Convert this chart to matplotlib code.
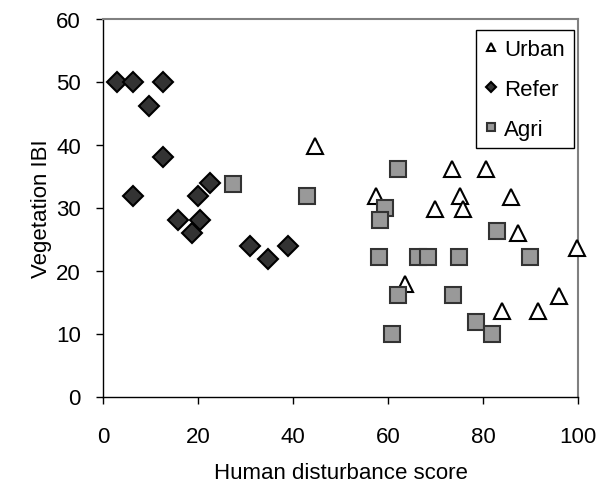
import matplotlib
matplotlib.use("Agg")
import matplotlib.pyplot as plt

plt.rcParams["font.family"] = ["Liberation Sans", "DejaVu Sans"]

# Urban sites
urban_x = [44.7, 57.4, 73.4, 80.7, 75.1, 85.8, 69.9, 75.8, 87.4, 99.7, 63.6, 96.1, 83.9, 91.6]
urban_y = [39.8, 31.8, 36.1, 36.1, 31.8, 31.7, 29.7, 29.7, 26.0, 23.5, 17.8, 16.0, 13.6, 13.6]

# Reference sites
refer_x = [2.9, 6.3, 12.7, 9.6, 12.7, 6.3, 22.5, 19.9, 15.7, 20.5, 18.7, 31.0, 34.8, 39.0]
refer_y = [50.0, 50.0, 50.0, 46.1, 38.0, 31.8, 33.9, 31.8, 28.0, 28.0, 26.0, 23.9, 21.9, 23.9]

# Agricultural sites
agri_x = [27.3, 43.0, 62.2, 59.3, 58.4, 83.0, 58.0, 66.3, 68.5, 74.9, 89.8, 62.2, 73.7, 60.9, 78.6, 81.8]
agri_y = [33.8, 31.8, 36.1, 29.9, 28.0, 26.3, 22.1, 22.1, 22.1, 22.1, 22.1, 16.1, 16.1, 10.0, 11.9, 10.0]

fig = plt.figure(figsize=(6.11, 4.85), dpi=100)
ax = fig.add_axes([103 / 611, 1 - 397.5 / 485, 475 / 611, 378 / 485])

ax.plot(urban_x, urban_y, "^", ms=11.5, mfc="white", mec="black", mew=1.5,
        label="Urban", clip_on=False, zorder=3)
ax.plot(refer_x, refer_y, "D", ms=10, mfc="#333333", mec="black", mew=1.5,
        label="Refer", clip_on=False, zorder=3)
ax.plot(agri_x, agri_y, "s", ms=11.5, mfc="#999999", mec="#333333", mew=1.5,
        label="Agri", clip_on=False, zorder=3)

ax.set_xlim(0, 100)
ax.set_ylim(0, 60)
ax.set_xticks(range(0, 101, 20))
ax.set_yticks(range(0, 61, 10))
ax.tick_params(direction="out", length=5, width=1, labelsize=16)
ax.tick_params(axis="x", pad=16)
ax.tick_params(axis="y", pad=11)

for side in ("top", "right"):
    ax.spines[side].set_color("#808080")
    ax.spines[side].set_linewidth(1.5)
for side in ("left", "bottom"):
    ax.spines[side].set_linewidth(1)

ax.set_xlabel("Human disturbance score", fontsize=16, labelpad=11)
ax.set_ylabel("Vegetation IBI", fontsize=16, labelpad=3)

leg = ax.legend(loc="upper right", bbox_to_anchor=(0.991, 0.97), fontsize=16,
                markerscale=0.5, frameon=True, fancybox=False, framealpha=1,
                edgecolor="black", handlelength=0.5, handletextpad=0.35,
                labelspacing=0.85, borderpad=0.4, borderaxespad=0)
leg.get_frame().set_linewidth(1)

fig.savefig("out.png", dpi=100)
